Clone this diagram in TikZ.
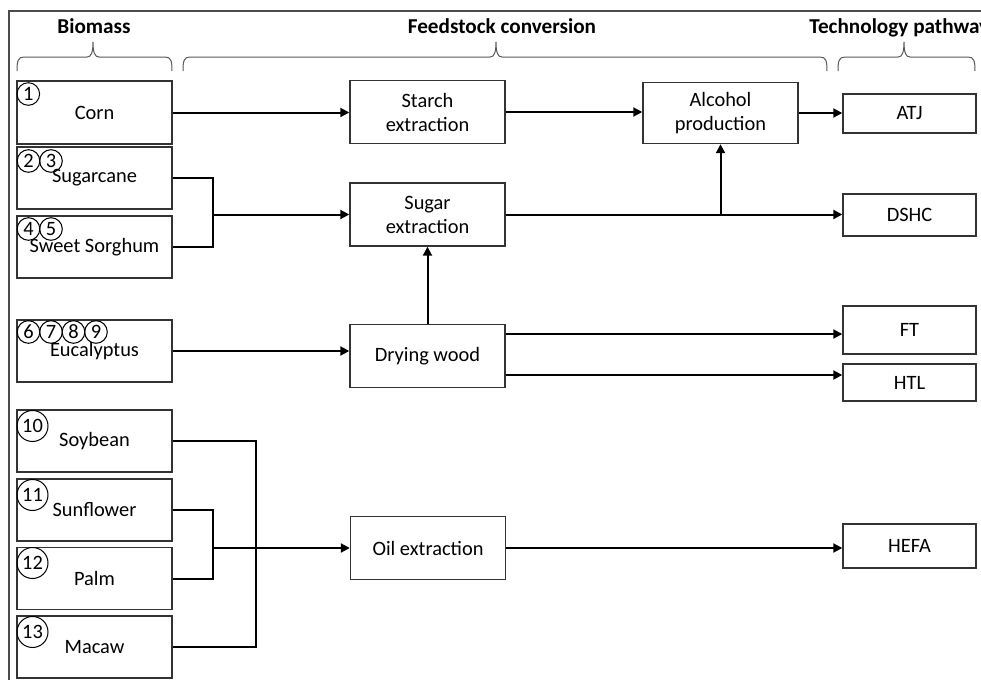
\documentclass[tikz,border=0pt]{standalone}
\usepackage{fontspec}
\setmainfont{Carlito}
\usetikzlibrary{arrows.meta}
\begin{document}
\begin{tikzpicture}[x=0.5pt,y=-0.5pt,
  box/.style={draw=black!80, line width=0.7pt, align=center, inner sep=1pt, font=\fontsize{10.2}{12}\selectfont},
  bio/.style={box, minimum width=77.5pt, minimum height=31pt},
  mid/.style={box, minimum width=77.5pt, minimum height=31.5pt},
  tech/.style={box, minimum width=66.5pt},
  num/.style={circle, draw=black, line width=0.5pt, inner sep=0pt, minimum size=11.3pt, font=\fontsize{10.2}{12}\selectfont},
  numw/.style={num, minimum size=15.5pt},
  conn/.style={line width=1pt, draw=black},
  arr/.style={conn, -{Triangle[length=4.5pt,width=4.5pt]}},
  brc/.style={draw=black!65, line width=0.5pt},
  head/.style={font=\fontsize{10.6}{12}\selectfont\bfseries, anchor=base, inner sep=0pt},
]
\useasboundingbox (0,0) rectangle (981,680);
\fill[white] (0,0) rectangle (981,680);
% frame
\draw[line width=0.8pt, black!70] (9,700) -- (9,11) -- (1000,11);

% headers
\node[head] (hbio) at (94,33) {Biomass};
\node[head] (hfeed) at (502,33) {Feedstock conversion};
\node[head, anchor=base west] (htech) at (809,33) {Technology pathway};

% braces
\draw[brc] (17,71) .. controls (17,61) and (18,57) .. (24,57) -- (87,57) .. controls (91,57) and (93,53) .. (93,42) .. controls (93,53) and (95,57) .. (99,57) -- (165,57) .. controls (171,57) and (172,61) .. (172,71);
\draw[brc] (183,71) .. controls (183,61) and (184,57) .. (190,57) -- (490,57) .. controls (494,57) and (496,53) .. (496,42) .. controls (496,53) and (498,57) .. (502,57) -- (820,57) .. controls (826,57) and (827,61) .. (827,71);
\draw[brc] (838,71) .. controls (838,61) and (839,57) .. (845,57) -- (898,57) .. controls (902,57) and (904,53) .. (904,42) .. controls (904,53) and (906,57) .. (910,57) -- (968,57) .. controls (974,57) and (975,61) .. (975,71);

% biomass boxes
\node[bio, minimum height=31.5pt] (corn) at (94.5,112.5) {Corn};
\node[bio] (cane) at (94.5,178) {Sugarcane};
\node[bio] (sorg) at (94.5,247) {Sweet Sorghum};
\node[bio] (euc) at (94.5,351) {Eucalyptus};
\node[bio] (soy) at (94.5,441) {Soybean};
\node[bio] (sun) at (94.5,510) {Sunflower};
\node[bio] (palm) at (94.5,578.5) {Palm};
\node[bio] (mac) at (94.5,647) {Macaw};

% circled numbers
\node[num] (n1) at (28.3,94) {1};
\node[num] (n2) at (28.5,161) {2};
\node[num] (n3) at (51,161) {3};
\node[num] (n4) at (28.5,229) {4};
\node[num] (n5) at (51,229) {5};
\node[num] (n6) at (28.5,332) {6};
\node[num] (n7) at (51,332) {7};
\node[num] (n8) at (73.5,332) {8};
\node[num] (n9) at (96,332) {9};
\node[numw] (n10) at (32.5,426) {10};
\node[numw] (n11) at (32.5,495) {11};
\node[numw] (n12) at (32.5,563) {12};
\node[numw] (n13) at (32.5,632) {13};

% conversion boxes
\node[mid] (starch) at (427.5,112) {Starch\\extraction};
\node[mid] (sug) at (427.5,214.5) {Sugar\\extraction};
\node[mid] (dry) at (427.5,356) {Drying wood};
\node[mid] (oil) at (428,548) {Oil extraction};
\node[box, minimum width=77.5pt, minimum height=30.5pt] (alc) at (720.5,113) {Alcohol\\production};

% pathway boxes
\node[tech, minimum height=19.5pt] (atj) at (909.5,113.5) {ATJ};
\node[tech, minimum height=21pt] (dshc) at (909.5,215) {DSHC};
\node[tech, minimum height=24pt] (ft) at (909.5,330) {FT};
\node[tech, minimum height=18.5pt] (htl) at (909.5,382.5) {HTL};
\node[tech, minimum height=22pt] (hefa) at (909.5,546) {HEFA};

% connectors
\draw[arr] (corn.east) -- (corn.east -| starch.west);
\draw[arr] (starch.east) -- (starch.east -| alc.west);
\draw[arr] (alc.east) -- (alc.east -| atj.west);

\coordinate (jS) at (213,0);
\draw[conn] (cane.east) -| (cane.east -| jS) |- (sorg.east);
\draw[arr] (sug.west -| jS) -- (sug.west);
\draw[arr] (sug.east) -- (sug.east -| dshc.west);
\draw[arr] (sug.east -| alc.south) -- (alc.south);

\draw[arr] (euc.east) -- (euc.east -| dry.west);
\draw[arr] (dry.north) -- (sug.south);
\coordinate (yft) at (0,334);
\coordinate (yhtl) at (0,375);
\draw[arr] (dry.east |- yft) -- (ft.west |- yft);
\draw[arr] (dry.east |- yhtl) -- (htl.west |- yhtl);

\coordinate (jO) at (256,0);
\coordinate (jP) at (213,0);
\draw[conn] (soy.east) -- (soy.east -| jO) |- (mac.east);
\draw[conn] (sun.east) -- (sun.east -| jP) |- (palm.east);
\draw[arr] (oil.west -| jP) -- (oil.west);
\draw[arr] (oil.east) -- (oil.east -| hefa.west);
\end{tikzpicture}
\end{document}
